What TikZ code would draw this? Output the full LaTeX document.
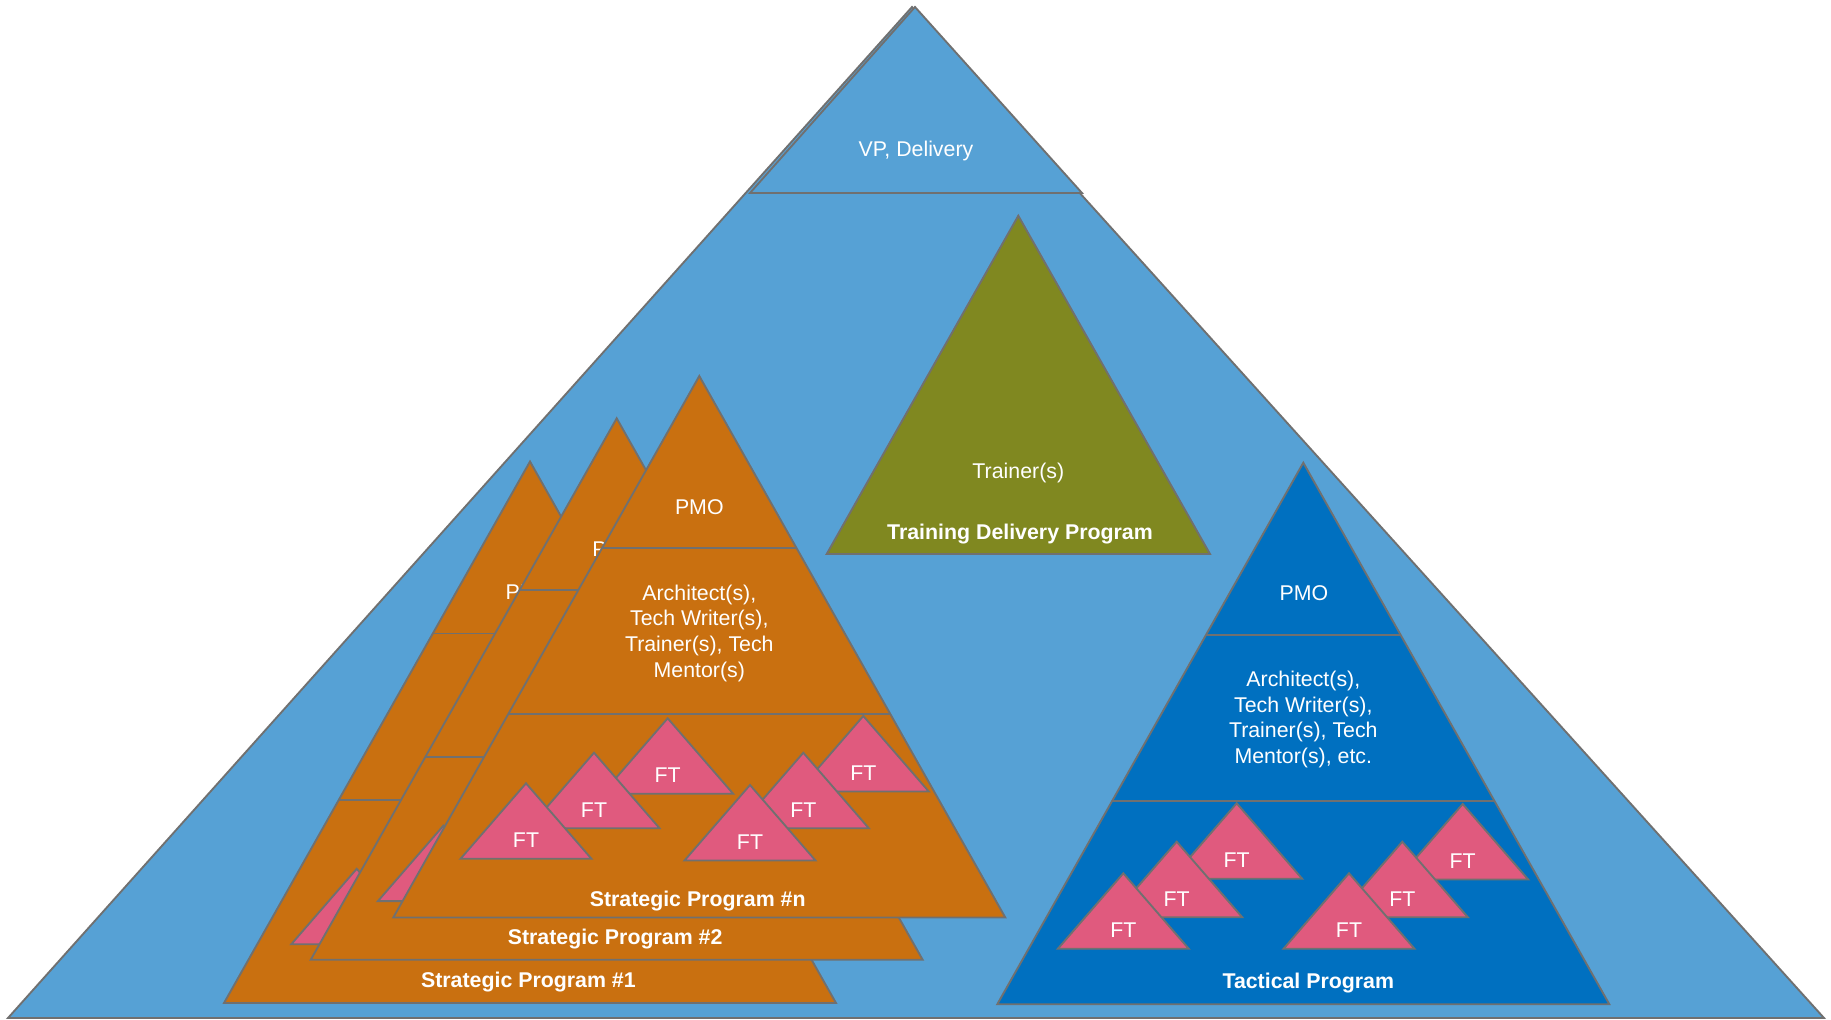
\documentclass[tikz,border=0pt]{standalone}
\usepackage{fontspec}
\setmainfont{Liberation Sans}
\definecolor{mainblue}{RGB}{86,161,213}
\definecolor{progorange}{RGB}{201,112,16}
\definecolor{trainolive}{RGB}{128,136,32}
\definecolor{tacblue}{RGB}{0,112,192}
\definecolor{ftpink}{RGB}{224,90,126}
\definecolor{edgegray}{RGB}{112,112,112}
\tikzset{
  shape edge/.style={draw=edgegray, line width=1.4pt, line join=miter},
  lbl/.style={text=white, font=\fontsize{16}{19.4}\selectfont, inner sep=0pt, anchor=base},
  blbl/.style={text=white, font=\fontsize{16}{19.4}\selectfont\bfseries, inner sep=0pt, anchor=base},
  multi/.style={text=white, font=\fontsize{16}{19.4}\selectfont, align=center, inner sep=0pt, anchor=center},
}
% pink functional-team triangle shape: apex x, apex y
\newcommand{\ftshape}[2]{%
  \draw[shape edge, fill=ftpink] (#1,#2) -- ++(65.5,75.5) -- ++(-131,0) -- cycle;}
% pink functional-team triangle with label: name, apex x, apex y
\newcommand{\ftri}[3]{%
  \ftshape{#2}{#3}
  \node[lbl] (#1) at (#2,#3+64.6) {FT};}
% three-layer pyramid: apex x, apex y, fill colour
\newcommand{\layers}[3]{%
  \draw[shape edge, fill=#3] (#1,#2) -- ++(306,541.5) -- ++(-612,0) -- cycle;
  \draw[shape edge] (#1-97.1,#2+172) -- ++(194.2,0);
  \draw[shape edge] (#1-191,#2+338.3) -- ++(382,0);}
% strategic program lying behind another one (only visible parts carry text)
\newcommand{\strategicback}[5]{%
  \layers{#1}{#2}{progorange}
  \node[lbl] (#3pmo) at (#1,#2+138.3) {PMO};
  \ftshape{#1-31.6}{#2+342.3}
  \ftshape{#1-105.3}{#2+376.7}
  \ftshape{#1-173.3}{#2+407.3}
  \node[blbl] (#3name) at (#1-1.6,#2+#5) {Strategic Program #4};}
% front strategic program: apex x, apex y, prefix, number, label offset
\newcommand{\strategic}[5]{%
  \layers{#1}{#2}{progorange}
  \node[lbl] (#3pmo) at (#1,#2+138.3) {PMO};
  \node[multi] (#3roles) at (#1,#2+257.4) {Architect(s),\\Tech Writer(s),\\Trainer(s), Tech\\Mentor(s)};
  \ftri{#3fta}{#1-31.6}{#2+342.3}
  \ftri{#3ftb}{#1-105.3}{#2+376.7}
  \ftri{#3ftc}{#1-173.3}{#2+407.3}
  \ftri{#3ftd}{#1+164}{#2+340}
  \ftri{#3fte}{#1+104}{#2+376.7}
  \ftri{#3ftf}{#1+50.7}{#2+409}
  \node[blbl] (#3name) at (#1-1.6,#2+#5) {Strategic Program #4};}
\begin{document}
\begin{tikzpicture}[x=0.75pt,y=-0.75pt]
\useasboundingbox[fill=white] (0,0) rectangle (1831,1020);
% overall delivery pyramid
\draw[shape edge, fill=mainblue] (912,7) -- (1824,1018) -- (8,1018) -- cycle;
\draw[shape edge, fill=mainblue] (915,7) -- (1082,193) -- (750,193) -- cycle;
\node[lbl] (vp) at (916,156.6) {VP, Delivery};
% training delivery program
\draw[shape edge, fill=trainolive] (1018.3,215.7) -- (1210,554) -- (826.7,554) -- cycle;
\node[lbl] (trainer) at (1018.3,478.6) {Trainer(s)};
\node[blbl] (trainprog) at (1020,539.9) {Training Delivery Program};
% strategic programs, back to front
\strategicback{530}{461.5}{sa}{\#1}{526}
\strategicback{616.7}{418.3}{sb}{\#2}{526}
\strategic{699.3}{376}{sn}{\#n}{530.6}
% tactical program
\layers{1303.3}{462.7}{tacblue}
\node[lbl] (tpmo) at (1304,600.3) {PMO};
\node[multi] (troles) at (1303.3,719.5) {Architect(s),\\Tech Writer(s),\\Trainer(s), Tech\\Mentor(s), etc.};
\ftri{tfta}{1236.7}{803.3}
\ftri{tftb}{1176.7}{841.7}
\ftri{tftc}{1123.3}{873.3}
\ftri{tftd}{1462.7}{804}
\ftri{tfte}{1402.3}{841.7}
\ftri{tftf}{1349}{873.3}
\node[blbl] (tname) at (1308.3,988.3) {Tactical Program};
\end{tikzpicture}
\end{document}
